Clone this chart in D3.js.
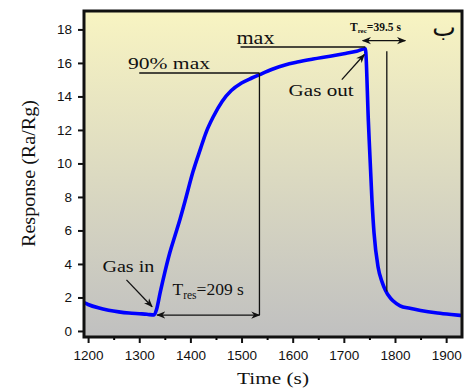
<!DOCTYPE html>
<html>
<head>
<meta charset="utf-8">
<script src="https://cdn.jsdelivr.net/npm/d3@7"></script>
<style>
  body { margin: 0; background: #fff; }
  svg text { fill: #111; }
  .serif { font-family: "Liberation Serif", "DejaVu Serif", serif; }
</style>
</head>
<body>
<svg id="chart" width="467" height="390"></svg>
<script>
// sensor response curve
const timeS = [1192, 1200, 1220, 1240, 1260, 1280, 1300, 1315, 1329, 1334, 1341, 1350, 1360, 1370, 1380, 1390,
  1405, 1420, 1430, 1445, 1462, 1480, 1500, 1520, 1535, 1560, 1585, 1609, 1640, 1673, 1700, 1725, 1742,
  1748, 1755, 1759, 1767, 1775, 1781, 1790, 1796, 1810, 1829, 1850, 1883, 1910, 1931];
const response = [1.69, 1.58, 1.38, 1.24, 1.14, 1.07, 1.03, 1.0, 0.95, 1.3, 2.3, 3.5, 4.7, 5.7, 6.7, 7.8,
  9.5, 10.9, 11.8, 12.8, 13.7, 14.35, 14.8, 15.1, 15.3, 15.62, 15.88, 16.05, 16.23, 16.4, 16.55, 16.7, 16.85,
  12.5, 7.8, 5.85, 3.8, 2.9, 2.45, 2.0, 1.8, 1.5, 1.35, 1.22, 1.07, 0.98, 0.92];

const xTicks = [1200, 1300, 1400, 1500, 1600, 1700, 1800, 1900];
const yTicks = [0, 2, 4, 6, 8, 10, 12, 14, 16, 18];

// annotation anchors (data units)
const tGasIn = 1329, t90 = 1535, tPeak = 1742, tRecEnd = 1784;
const levelMax = 16.95, level90 = 15.4, levelRes = 0.95, levelRec = 17.33;

const margin = {top: 11, right: 5, bottom: 53, left: 84};
const W = 467, H = 390;
const w = W - margin.left - margin.right;
const h = H - margin.top - margin.bottom;

const svg = d3.select("#chart");

const defs = svg.append("defs");
const grad = defs.append("linearGradient")
  .attr("id", "bg").attr("x1", 0).attr("y1", 0).attr("x2", 0).attr("y2", 1);
grad.append("stop").attr("offset", "0%").attr("stop-color", "#f8f4c2");
grad.append("stop").attr("offset", "100%").attr("stop-color", "#c0c0c0");

function arrowMarker(id) {
  defs.append("marker")
    .attr("id", id).attr("viewBox", "0 0 10 10")
    .attr("refX", 9).attr("refY", 5)
    .attr("markerWidth", 7).attr("markerHeight", 7)
    .attr("orient", "auto-start-reverse")
    .append("path").attr("d", "M0,1 L10,5 L0,9 L3,5 Z").attr("fill", "#111");
}
arrowMarker("arr");

// serif label stretched to the width it has in the figure
function label(sel, txt, size, len) {
  const t = sel.append("text").attr("class", "serif").attr("font-size", size).text(txt);
  if (len) t.attr("textLength", len).attr("lengthAdjust", "spacingAndGlyphs");
  return t;
}

const g = svg.append("g").attr("transform", `translate(${margin.left},${margin.top})`);

const x = d3.scaleLinear().domain([1192, 1931]).range([0, w]);
const y = d3.scaleLinear().domain([-0.36, 19.1]).range([h, 0]);

g.append("rect").attr("width", w).attr("height", h).attr("fill", "url(#bg)");

// axes
const xAxis = g.append("g").attr("transform", `translate(0,${h})`)
  .call(d3.axisBottom(x).tickValues(xTicks).tickFormat(d3.format("d")).tickSize(6).tickPadding(7));
g.append("g").attr("transform", `translate(0,${h})`)
  .call(d3.axisBottom(x).tickValues(d3.range(1250, 1931, 100)).tickFormat("").tickSize(3))
  .call(a => a.select(".domain").remove())
  .selectAll("line").attr("stroke-width", 2);
const yAxis = g.append("g")
  .call(d3.axisLeft(y).tickValues(yTicks).tickSize(6).tickPadding(6));

[xAxis, yAxis].forEach(a => {
  a.select(".domain").remove();
  a.selectAll("line").attr("stroke", "#111").attr("stroke-width", 2);
  a.selectAll("text").attr("font-family", "'Liberation Sans', Arial, sans-serif")
    .attr("font-size", 13.5).attr("fill", "#111");
});

// curve
const pts = timeS.map((t, i) => [t, response[i]]);
g.append("path").datum(pts)
  .attr("fill", "none").attr("stroke", "#0000ff").attr("stroke-width", 3.6)
  .attr("stroke-linejoin", "round")
  .attr("d", d3.line().x(d => x(d[0])).y(d => y(d[1])).curve(d3.curveMonotoneX));

// annotations
const ann = g.append("g").attr("stroke", "#111").attr("stroke-width", 1.3).attr("fill", "none");

// max line
ann.append("line").attr("x1", x(1498)).attr("x2", x(tPeak)).attr("y1", y(levelMax)).attr("y2", y(levelMax));
label(g, "max", 18, 38).attr("x", x(1490)).attr("y", y(levelMax) - 3);

// 90% max line
ann.append("line").attr("x1", x(1300)).attr("x2", x(t90)).attr("y1", y(level90)).attr("y2", y(level90));
label(g, "90% max", 17.5, 82).attr("x", x(1278)).attr("y", y(level90) - 4);

// response time
ann.append("line").attr("x1", x(t90)).attr("x2", x(t90)).attr("y1", y(level90)).attr("y2", y(levelRes));
ann.append("line").attr("x1", x(tGasIn) + 3).attr("x2", x(t90)).attr("y1", y(levelRes)).attr("y2", y(levelRes))
  .attr("marker-start", "url(#arr)").attr("marker-end", "url(#arr)");
const tres = g.append("text").attr("class", "serif").attr("x", x(1365)).attr("y", y(2.15))
  .attr("font-size", 17.5);
tres.append("tspan").text("T");
tres.append("tspan").attr("font-size", 11.5).attr("dy", 4).text("res");
tres.append("tspan").attr("dy", -4).text("=209 s");

// gas in
label(g, "Gas in", 17, 52).attr("x", x(1228)).attr("y", y(3.5));
ann.append("line").attr("x1", x(1275)).attr("y1", y(3.05)).attr("x2", x(tGasIn) - 2).attr("y2", y(1.45))
  .attr("marker-end", "url(#arr)");

// gas out
label(g, "Gas out", 17, 65).attr("x", x(1592)).attr("y", y(14.0));
ann.append("line").attr("x1", x(1696)).attr("y1", y(15.0)).attr("x2", x(tPeak) - 1).attr("y2", y(16.5))
  .attr("marker-end", "url(#arr)");

// recovery time
ann.append("line").attr("x1", x(tRecEnd)).attr("x2", x(tRecEnd)).attr("y1", y(16.7)).attr("y2", y(2.35));
ann.append("line").attr("x1", x(1737)).attr("x2", x(1820)).attr("y1", y(levelRec)).attr("y2", y(levelRec))
  .attr("marker-start", "url(#arr)").attr("marker-end", "url(#arr)");
const trec = g.append("text").attr("class", "serif").attr("x", x(1712)).attr("y", y(17.9))
  .attr("font-size", 11.5).attr("font-weight", "bold");
trec.append("tspan").text("T");
trec.append("tspan").attr("font-size", 7).attr("dy", 2).text("rec");
trec.append("tspan").attr("dy", -2).text("=39.5 s");

// panel letter
g.append("text").attr("x", x(1896)).attr("y", y(17.6)).attr("text-anchor", "middle")
  .attr("font-family", "'DejaVu Sans', sans-serif").attr("font-size", 25).text("ب");

// frame
g.append("rect").attr("width", w).attr("height", h)
  .attr("fill", "none").attr("stroke", "#111").attr("stroke-width", 3);

// axis titles
label(svg, "Time (s)", 16.5, 72).attr("x", 237).attr("y", 384);
label(svg, "Response (Ra/Rg)", 18.5, 147)
  .attr("transform", `translate(35,247)rotate(-90)`);
</script>
</body>
</html>
